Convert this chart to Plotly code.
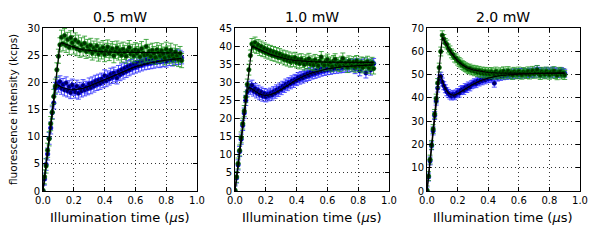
import plotly.graph_objects as go

# ---------------- data ----------------
t = [0.00, 0.01, 0.02, 0.03, 0.04, 0.05, 0.06, 0.07, 0.08, 0.09,
     0.10, 0.11, 0.12, 0.13, 0.14, 0.15, 0.16, 0.17, 0.18, 0.19,
     0.20, 0.21, 0.22, 0.23, 0.24, 0.25, 0.26, 0.27, 0.28, 0.29,
     0.30, 0.31, 0.32, 0.33, 0.34, 0.35, 0.36, 0.37, 0.38, 0.39,
     0.40, 0.41, 0.42, 0.43, 0.44, 0.45, 0.46, 0.47, 0.48, 0.49,
     0.50, 0.51, 0.52, 0.53, 0.54, 0.55, 0.56, 0.57, 0.58, 0.59,
     0.60, 0.61, 0.62, 0.63, 0.64, 0.65, 0.66, 0.67, 0.68, 0.69,
     0.70, 0.71, 0.72, 0.73, 0.74, 0.75, 0.76, 0.77, 0.78, 0.79,
     0.80, 0.81, 0.82, 0.83, 0.84, 0.85, 0.86, 0.87, 0.88, 0.89,
     0.90]

green_05 = [0.1, 2.6, 4.6, 7.5, 9.6, 12.4, 14.5, 17.4, 19.3, 22.3,
            24.8, 26.9, 28.3, 27.1, 28.6, 26.8, 27.9, 26.4, 28.2, 27.3,
            26.5, 27.8, 26.2, 27.4, 25.9, 26.9, 26.1, 27.2, 25.7, 26.6,
            25.9, 26.8, 25.4, 26.3, 25.8, 26.7, 25.2, 26.1, 25.6, 26.4,
            25.1, 25.9, 26.5, 25.3, 25.8, 26.2, 24.9, 25.7, 26.3, 25.4,
            25.9, 25.0, 26.1, 25.5, 24.8, 25.9, 26.4, 25.2, 25.7, 24.9,
            26.0, 25.3, 25.8, 24.7, 26.2, 25.4, 25.0, 26.6, 25.1, 25.7,
            24.8, 25.9, 25.3, 24.6, 26.0, 25.5, 24.9, 25.8, 25.2, 24.5,
            26.1, 25.4, 24.8, 25.9, 25.0, 24.4, 25.6, 24.9, 24.2, 25.3,
            24.0]
blue_05 = [0.0, 2.2, 4.9, 6.8, 9.7, 11.6, 14.4, 16.2, 18.9, 19.8,
           19.3, 20.1, 18.9, 19.6, 18.6, 19.9, 18.4, 19.2, 18.1, 19.5,
           18.7, 18.2, 19.3, 18.0, 18.9, 18.4, 19.4, 18.6, 19.1, 18.8,
           19.7, 19.0, 19.9, 19.3, 20.2, 19.6, 20.4, 19.8, 20.6, 20.1,
           21.2, 20.3, 21.0, 20.6, 21.5, 20.9, 21.7, 21.2, 20.8, 22.0,
           21.4, 22.3, 21.7, 22.6, 22.0, 22.9, 22.3, 23.1, 22.6, 23.4,
           22.8, 23.5, 23.0, 23.8, 23.2, 23.9, 23.4, 24.1, 23.5, 24.2,
           23.6, 24.3, 23.7, 24.4, 23.9, 24.5, 23.8, 24.6, 24.0, 24.7,
           23.9, 24.8, 24.2, 24.9, 24.1, 24.7, 24.3, 25.0, 24.4, 24.8,
           24.5]

green_10 = [0.2, 3.9, 7.6, 11.2, 14.8, 18.6, 22.1, 25.9, 29.4, 33.5,
            37.4, 40.6, 39.8, 41.0, 39.5, 40.3, 38.9, 39.9, 38.6, 39.4,
            38.2, 39.0, 37.9, 38.7, 37.5, 38.4, 37.3, 38.1, 36.9, 37.8,
            36.8, 37.4, 36.3, 37.2, 36.0, 36.9, 35.7, 36.6, 35.9, 36.8,
            35.5, 36.3, 35.2, 36.4, 35.6, 34.9, 36.1, 35.3, 36.5, 35.0,
            35.8, 34.8, 36.2, 35.4, 34.6, 35.9, 37.0, 35.1, 34.7, 35.8,
            36.3, 34.9, 35.5, 34.4, 35.9, 36.4, 34.8, 35.3, 34.5, 35.7,
            36.6, 34.9, 35.4, 34.2, 35.8, 35.1, 34.6, 35.6, 34.3, 35.9,
            35.0, 34.5, 35.5, 34.1, 35.3, 34.7, 35.7, 34.0, 34.9, 35.4,
            33.8]
blue_10 = [0.0, 3.6, 7.2, 10.9, 14.3, 18.1, 21.5, 25.0, 27.4, 28.8,
           28.1, 29.2, 27.6, 28.3, 27.1, 27.8, 26.6, 27.3, 26.2, 26.9,
           26.0, 26.7, 26.3, 27.0, 26.5, 27.4, 27.0, 27.9, 27.5, 28.4,
           28.0, 28.9, 28.6, 29.5, 29.1, 29.9, 29.6, 30.4, 30.0, 30.8,
           30.5, 31.3, 30.9, 31.6, 31.2, 32.0, 31.6, 32.4, 31.9, 32.7,
           32.3, 33.0, 32.5, 33.3, 32.8, 33.6, 33.1, 33.8, 33.3, 34.0,
           33.5, 34.2, 33.6, 34.4, 33.8, 34.5, 33.9, 34.7, 34.0, 34.6,
           34.1, 35.0, 34.3, 34.8, 34.2, 35.1, 34.4, 34.9, 33.8, 35.2,
           34.5, 33.2, 34.9, 34.3, 35.3, 32.6, 34.6, 35.0, 33.4, 34.7,
           35.2]

green_20 = [0.3, 6.4, 13.5, 19.8, 26.6, 33.1, 39.7, 46.4, 53.0, 59.9,
            66.9, 65.3, 63.6, 62.9, 61.2, 60.4, 59.1, 58.5, 57.3, 56.9,
            56.0, 55.4, 54.8, 54.1, 53.7, 53.2, 52.9, 52.3, 52.6, 51.8,
            52.1, 51.4, 51.9, 51.0, 51.6, 50.7, 51.3, 50.5, 51.2, 50.4,
            51.0, 50.2, 51.1, 50.6, 49.9, 51.3, 50.5, 50.1, 51.0, 50.3,
            51.4, 50.0, 50.8, 51.5, 50.2, 50.9, 49.8, 51.2, 50.6, 50.1,
            51.3, 50.4, 49.9, 51.1, 50.7, 50.2, 51.4, 50.0, 50.8, 51.6,
            50.3, 50.9, 52.0, 50.4, 49.8, 51.2, 50.6, 50.1, 51.3, 50.5,
            49.9, 51.0, 50.4, 51.5, 50.2, 49.7, 50.9, 51.2, 50.0, 50.6,
            49.8]
blue_20 = [0.0, 6.0, 12.9, 19.4, 25.8, 32.4, 38.6, 44.2, 48.1, 49.3,
           46.8, 45.2, 43.9, 42.6, 41.9, 41.2, 40.8, 41.5, 40.9, 41.7,
           42.3, 42.0, 43.1, 43.6, 43.2, 44.4, 44.0, 45.1, 44.7, 45.6,
           45.9, 46.5, 46.1, 47.2, 46.8, 47.6, 47.3, 48.1, 47.7, 48.5,
           48.2, 48.9, 48.4, 49.2, 46.3, 49.4, 48.9, 49.7, 49.2, 50.1,
           49.5, 50.3, 49.7, 50.4, 49.8, 50.6, 49.9, 50.7, 50.1, 50.8,
           50.0, 50.9, 50.3, 51.0, 50.2, 50.8, 50.4, 51.1, 50.3, 50.9,
           50.5, 51.2, 52.1, 50.6, 51.3, 50.4, 51.0, 50.2, 51.4, 50.7,
           51.1, 50.3, 51.5, 50.6, 51.2, 50.4, 51.0, 50.5, 51.3, 50.8,
           50.6]

# measurement uncertainty (kcps) per series
err_green = [1.3, 1.5, 1.9]
err_blue = [1.1, 1.4, 1.7]

# model fits
fit_t = [0.00, 0.08, 0.09, 0.10, 0.11, 0.12, 0.13, 0.14, 0.16, 0.18, 0.20,
         0.23, 0.26, 0.30, 0.35, 0.40, 0.45, 0.50, 0.60, 0.70, 0.80, 0.90]
fit_green_05 = [0.0, 19.6, 22.0, 24.5, 26.9, 27.3, 27.2, 27.0, 26.8, 26.6, 26.4,
                26.2, 26.0, 25.85, 25.7, 25.6, 25.55, 25.5, 25.5, 25.45, 25.45, 25.4]
fit_blue_05 = [0.0, 18.8, 19.6, 19.5, 19.3, 19.1, 19.0, 18.9, 18.7, 18.6, 18.6,
               18.7, 18.9, 19.3, 19.9, 20.6, 21.2, 21.8, 22.9, 23.6, 24.1, 24.4]
fit_green_10 = [0.0, 29.6, 33.3, 37.0, 40.0, 39.8, 39.6, 39.4, 39.0, 38.6, 38.2,
                37.7, 37.3, 36.8, 36.3, 36.0, 35.8, 35.7, 35.6, 35.5, 35.5, 35.5]
fit_blue_10 = [0.0, 27.5, 28.6, 28.5, 28.2, 27.9, 27.6, 27.3, 26.8, 26.5, 26.4,
               26.6, 27.1, 28.0, 29.4, 30.7, 31.8, 32.6, 33.7, 34.3, 34.6, 34.8]
fit_green_20 = [0.0, 52.8, 59.4, 66.0, 65.0, 63.6, 62.4, 61.3, 59.2, 57.4, 55.9,
                54.2, 53.0, 52.0, 51.3, 50.9, 50.7, 50.6, 50.5, 50.5, 50.5, 50.5]
fit_blue_20 = [0.0, 49.2, 49.6, 47.3, 45.4, 44.0, 42.9, 42.1, 41.3, 41.2, 41.8,
               43.0, 44.3, 45.8, 47.4, 48.5, 49.2, 49.7, 50.2, 50.5, 50.6, 50.7]

titles = ["0.5 mW", "1.0 mW", "2.0 mW"]
y_max = [30, 45, 70]
y_step = [5, 5, 10]
green_sets = [green_05, green_10, green_20]
blue_sets = [blue_05, blue_10, blue_20]
fit_green_sets = [fit_green_05, fit_green_10, fit_green_20]
fit_blue_sets = [fit_blue_05, fit_blue_10, fit_blue_20]

# ---------------- figure ----------------
W, H = 600, 240
x_dom = [(43 / W, 197 / W), (235 / W, 389 / W), (427 / W, 580 / W)]
y_dom = (1 - 191 / H, 1 - 28 / H)
FONT = "DejaVu Sans"

fig = go.Figure()
for i in range(3):
    xa = "x" if i == 0 else f"x{i+1}"
    ya = "y" if i == 0 else f"y{i+1}"
    for ys, err, ecol, mcol, lcol in [
        (blue_sets[i], err_blue[i], "rgba(40,40,255,0.8)", "#00005a", "#0000ff"),
        (green_sets[i], err_green[i], "rgba(30,150,30,0.8)", "#003000", "#008000"),
    ]:
        fig.add_trace(go.Scatter(
            x=t, y=ys, mode="markers", xaxis=xa, yaxis=ya,
            marker=dict(size=4.5, color=mcol, line=dict(color=lcol, width=0.6)),
            error_y=dict(type="constant", value=err, color=ecol,
                         thickness=1, width=2.5),
            showlegend=False, hoverinfo="skip"))
    for fy in (fit_blue_sets[i], fit_green_sets[i]):
        fig.add_trace(go.Scatter(
            x=fit_t, y=fy, mode="lines", xaxis=xa, yaxis=ya,
            line=dict(color="black", width=1.2),
            showlegend=False, hoverinfo="skip"))

axis_common = dict(
    showline=True, linecolor="black", linewidth=1, mirror="ticks",
    ticks="inside", ticklen=4, tickcolor="black", tickwidth=1,
    showgrid=True, gridcolor="black", griddash="1px,3px", gridwidth=0.8,
    zeroline=False, automargin=False,
    tickfont=dict(family=FONT, size=10, color="black"),
)
layout = dict(
    width=W, height=H,
    margin=dict(l=0, r=0, t=0, b=0, autoexpand=False),
    paper_bgcolor="white", plot_bgcolor="white",
    showlegend=False,
)
annotations = []
for i in range(3):
    xk = "xaxis" if i == 0 else f"xaxis{i+1}"
    yk = "yaxis" if i == 0 else f"yaxis{i+1}"
    ya = "y" if i == 0 else f"y{i+1}"
    xa = "x" if i == 0 else f"x{i+1}"
    layout[xk] = dict(axis_common, domain=list(x_dom[i]), anchor=ya,
                      range=[0, 1], dtick=0.2, tick0=0, tickformat=".1f")
    layout[yk] = dict(axis_common, domain=list(y_dom), anchor=xa,
                      range=[0, y_max[i]], dtick=y_step[i], tick0=0)
    xc = (x_dom[i][0] + x_dom[i][1]) / 2
    annotations.append(dict(text=titles[i], x=xc, y=1 - 17 / H,
                            xref="paper", yref="paper", showarrow=False,
                            xanchor="center", yanchor="middle",
                            font=dict(family=FONT, size=14, color="black")))
    annotations.append(dict(text="Illumination time (<i>μ</i>s)", x=xc,
                            y=1 - 217 / H, xref="paper", yref="paper",
                            showarrow=False, xanchor="center", yanchor="middle",
                            font=dict(family=FONT, size=13, color="black")))
annotations.append(dict(text="fluorescence intensity (kcps)", x=13 / W,
                        y=1 - 110 / H, xref="paper", yref="paper",
                        showarrow=False, textangle=-90,
                        xanchor="center", yanchor="middle",
                        font=dict(family=FONT, size=10.5, color="black")))
layout["annotations"] = annotations
fig.update_layout(**layout)

fig.write_html("out.html",
               config={"displayModeBar": False, "staticPlot": True},
               post_script="document.body.style.margin='0';"
                           "document.body.style.padding='0';")
